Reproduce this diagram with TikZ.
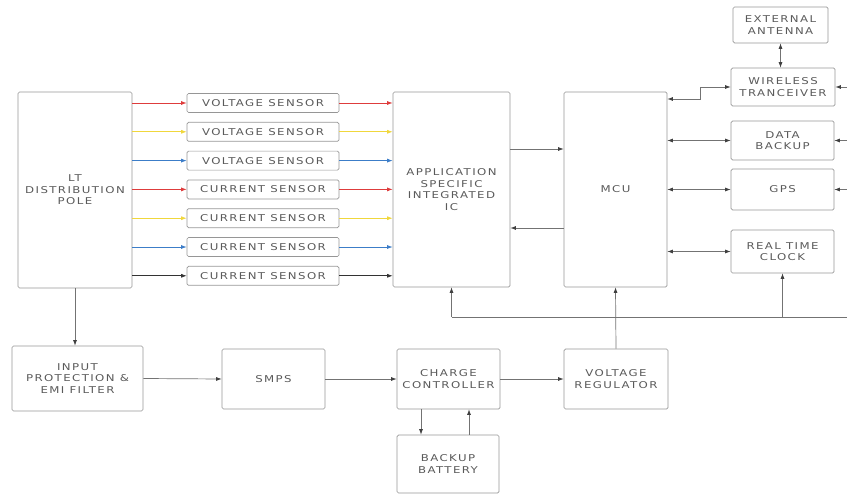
\documentclass[tikz,border=0pt]{standalone}
\usepackage{fontspec}
\setmainfont{DejaVu Sans}[FakeStretch=1.25,LetterSpace=15]
\usetikzlibrary{arrows.meta,calc}
\definecolor{sred}{RGB}{222,60,60}
\definecolor{syel}{RGB}{240,215,60}
\definecolor{sblu}{RGB}{60,125,200}
\definecolor{lcol}{RGB}{115,115,115}
\definecolor{tcol}{RGB}{90,90,90}
\begin{document}
\begin{tikzpicture}[x=1pt,y=-1pt,
  blk/.style={draw=lcol!75,line width=0.7pt,rounded corners=1.5pt,align=center,
    text=tcol,font=\fontsize{9.4}{11.5}\selectfont,inner sep=0pt},
  sens/.style={blk,minimum width=152pt,minimum height=19pt},
  con/.style={draw=lcol,line width=0.7pt,-{Latex[length=5.5pt,width=4pt,color=black!75]}},
  dcon/.style={draw=lcol,line width=0.7pt,{Latex[length=5.5pt,width=4pt,color=black!75]}-{Latex[length=5.5pt,width=4pt,color=black!75]}},
  ccon/.style={line width=0.7pt,-{Latex[length=5.5pt,width=4pt]}}]
\useasboundingbox (0,0) rectangle (847,495);
% main blocks
\node[blk,minimum width=114pt,minimum height=196pt] (lt) at (75,190) {LT\\DISTRIBUTION\\POLE};
\node[sens] (s1) at (263,103) {VOLTAGE SENSOR};
\node[sens] (s2) at (263,131.8) {VOLTAGE SENSOR};
\node[sens] (s3) at (263,160.6) {VOLTAGE SENSOR};
\node[sens] (s4) at (263,189.4) {CURRENT SENSOR};
\node[sens] (s5) at (263,218.2) {CURRENT SENSOR};
\node[sens] (s6) at (263,247) {CURRENT SENSOR};
\node[sens] (s7) at (263,275.8) {CURRENT SENSOR};
\node[blk,minimum width=117pt,minimum height=195pt] (asic) at (451.5,189.5) {APPLICATION\\SPECIFIC\\INTEGRATED\\IC};
\node[blk,minimum width=103pt,minimum height=195pt] (mcu) at (615.5,189.5) {MCU};
\node[blk,minimum width=95pt,minimum height=36pt] (ext) at (780.5,25) {EXTERNAL\\ANTENNA};
\node[blk,minimum width=104pt,minimum height=38pt] (wl) at (783,87) {WIRELESS\\TRANCEIVER};
\node[blk,minimum width=103pt,minimum height=39pt] (db) at (782.5,140.5) {DATA\\BACKUP};
\node[blk,minimum width=103pt,minimum height=41pt] (gps) at (782.5,189.5) {GPS};
\node[blk,minimum width=103pt,minimum height=43pt] (rtc) at (782.5,251.5) {REAL TIME\\CLOCK};
\node[blk,minimum width=131pt,minimum height=65pt] (ip) at (77.5,378.5) {INPUT\\PROTECTION \&\\EMI FILTER};
\node[blk,minimum width=103pt,minimum height=60pt] (smps) at (273.5,379) {SMPS};
\node[blk,minimum width=103pt,minimum height=60pt] (cc) at (448.5,379) {CHARGE\\CONTROLLER};
\node[blk,minimum width=104pt,minimum height=60pt] (vr) at (616,379) {VOLTAGE\\REGULATOR};
\node[blk,minimum width=102pt,minimum height=58pt] (bb) at (448,464) {BACKUP\\BATTERY};
% helper coordinates
\coordinate (ya) at (0,149);
\coordinate (yb) at (0,228);
\coordinate (yw) at (0,99);
\coordinate (xw) at (700,0);
\coordinate (bus) at (0,317);
\coordinate (edge) at (847,0);
\coordinate (xd) at (421,0);
\coordinate (xu) at (469,0);
% sensor connectors
\foreach \s/\c in {s1/sred,s2/syel,s3/sblu,s4/sred,s5/syel,s6/sblu,s7/black!80}{
  \draw[ccon,\c] (lt.east |- \s.west) -- (\s.west);
  \draw[ccon,\c] (\s.east) -- (asic.west |- \s.east);
}
% ASIC <-> MCU
\draw[con] (asic.east |- ya) -- (mcu.west |- ya);
\draw[con] (mcu.west |- yb) -- (asic.east |- yb);
% MCU <-> peripherals
\draw[dcon] (mcu.east |- yw) -- (xw |- yw) -- (xw |- wl.west) -- (wl.west);
\draw[dcon] (mcu.east |- db.west) -- (db.west);
\draw[dcon] (mcu.east |- gps.west) -- (gps.west);
\draw[dcon] (mcu.east |- rtc.west) -- (rtc.west);
\draw[dcon] (ext.south) -- (ext.south |- wl.north);
% right-edge inputs
\draw[con] (edge |- wl.east) -- (wl.east);
\draw[con] (edge |- db.east) -- (db.east);
\draw[con] (edge |- gps.east) -- (gps.east);
% power bus
\draw[draw=lcol,line width=0.7pt] (asic.south |- bus) -- (edge |- bus);
\draw[con] (asic.south |- bus) -- (asic.south);
\draw[con] (vr.north) -- (mcu.south);
\draw[con] (rtc.south |- bus) -- (rtc.south);
% power chain
\draw[con] (lt.south) -- (lt.south |- ip.north);
\draw[con] (ip.east) -- (smps.west);
\draw[con] (smps.east) -- (cc.west);
\draw[con] (cc.east) -- (vr.west);
\draw[con] (xd |- cc.south) -- (xd |- bb.north);
\draw[con] (xu |- bb.north) -- (xu |- cc.south);
\end{tikzpicture}
\end{document}
